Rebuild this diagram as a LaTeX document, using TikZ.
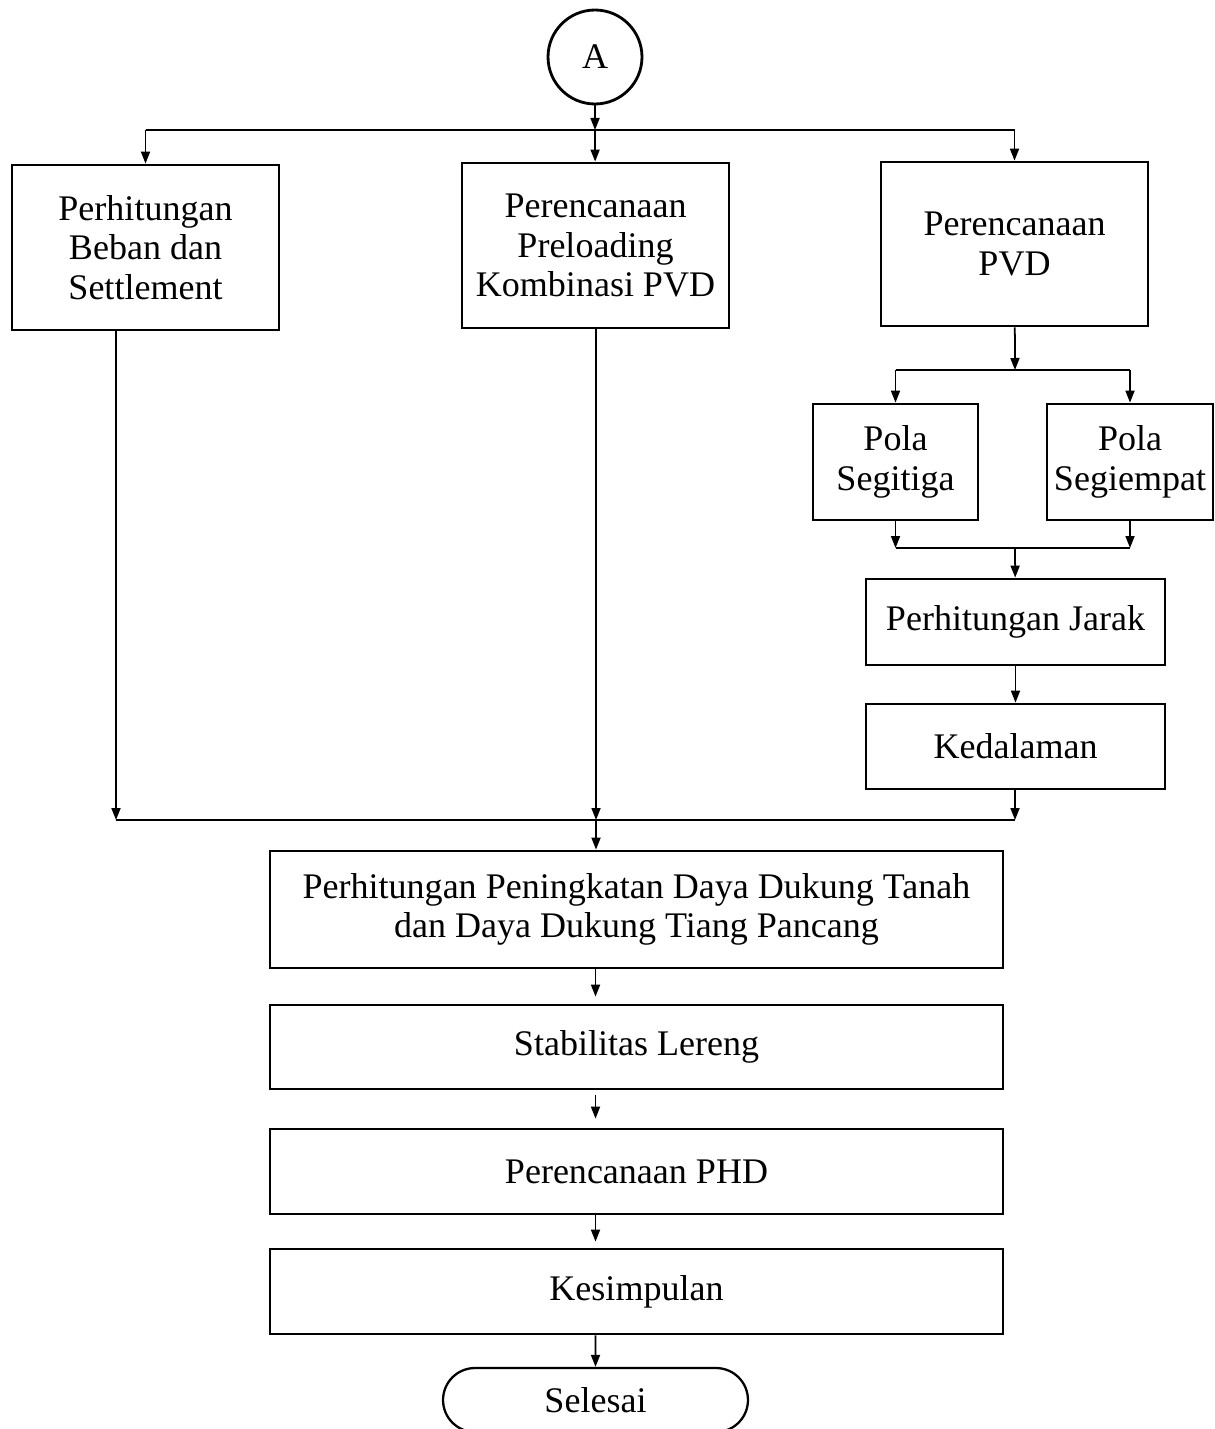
\documentclass[tikz,border=0pt]{standalone}
\usepackage{fontspec}
\setmainfont{Liberation Serif}
\usetikzlibrary{arrows.meta,shapes.misc,positioning,calc}

\begin{document}
\begin{tikzpicture}[x=0.02cm, y=-0.02cm,
    box/.style={draw, line width=1.6pt, align=center, inner sep=0pt, font=\fontsize{20.5}{22.6}\selectfont},
    arr/.style={-{Triangle[length=2.4mm,width=1.8mm]}, line width=1pt},
    ln/.style={line width=1pt}
]
\useasboundingbox (0,0) rectangle (1214,1429);

% start connector
\node[draw, circle, line width=1.6pt, minimum size=1.88cm, inner sep=0pt, font=\fontsize{20.5}{22.6}\selectfont] (A) at (595,57) {A};

% top row
\node[box, minimum width=5.34cm, minimum height=3.3cm] (beban) at (145.5,247.5) {Perhitungan\\Beban dan\\Settlement};
\node[box, minimum width=5.34cm, minimum height=3.3cm] (preload) at (595.5,245.5) {Perencanaan\\Preloading\\Kombinasi PVD};
\node[box, minimum width=5.34cm, minimum height=3.28cm] (pvd) at (1014.5,244) {Perencanaan\\PVD};

% PVD branch
\node[box, minimum width=3.3cm, minimum height=2.32cm] (segitiga) at (895.5,462) {Pola\\Segitiga};
\node[box, minimum width=3.32cm, minimum height=2.32cm] (segiempat) at (1130,462) {Pola\\Segiempat};
\node[box, minimum width=5.98cm, minimum height=1.72cm] (jarak) at (1015.5,622) {Perhitungan Jarak};
\node[box, minimum width=5.98cm, minimum height=1.7cm] (dalam) at (1015.5,746.5) {Kedalaman};

% main column
\node[box, minimum width=14.66cm, minimum height=2.34cm] (dukung) at (636.5,909.5) {Perhitungan Peningkatan Daya Dukung Tanah\\dan Daya Dukung Tiang Pancang};
\node[box, minimum width=14.66cm, minimum height=1.68cm] (lereng) at (636.5,1047) {Stabilitas Lereng};
\node[box, minimum width=14.66cm, minimum height=1.7cm] (phd) at (636.5,1171.5) {Perencanaan PHD};
\node[box, minimum width=14.66cm, minimum height=1.7cm] (simpul) at (636.5,1291.5) {Kesimpulan};
\node[box, rounded rectangle, line width=1.3pt, minimum width=6.1cm, minimum height=1.28cm] (selesai) at (595.5,1400) {Selesai};

% junctions
\coordinate (top) at (595,130);
\coordinate (pv1) at (1015,370);
\coordinate (pv2) at (1015,548);
\coordinate (m1) at (116,820);
\coordinate (m2) at (596,820);
\coordinate (m3) at (1015,820);

\draw[arr] (A) -- (top);
\draw[ln] (beban |- top) -- (pvd |- top);
\draw[arr] (beban |- top) -- (beban);
\draw[arr] (top) -- (preload);
\draw[arr] (pvd |- top) -- (pvd);

\draw[arr] (pvd) -- (pv1);
\draw[ln] (segitiga |- pv1) -- (segiempat |- pv1);
\draw[arr] (segitiga |- pv1) -- (segitiga);
\draw[arr] (segiempat |- pv1) -- (segiempat);
\draw[arr] (segitiga) -- (segitiga |- pv2);
\draw[arr] (segiempat) -- (segiempat |- pv2);
\draw[ln] (segitiga |- pv2) -- (segiempat |- pv2);
\draw[arr] (pv2) -- (jarak);
\draw[arr] (jarak) -- (dalam);

\draw[arr] (beban.south -| m1) -- (m1);
\draw[arr] (preload.south -| m2) -- (m2);
\draw[arr] (dalam.south -| m3) -- (m3);
\draw[ln] (m1) -- (m3);
\draw[arr] (m2) -- (m2 |- dukung.north);

\draw[arr] (dukung.south -| selesai) -- ([yshift=0.14cm]lereng.north -| selesai);
\draw[arr] ([yshift=-0.1cm]lereng.south -| selesai) -- ([yshift=0.18cm]phd.north -| selesai);
\draw[arr] (phd.south -| selesai) -- ([yshift=0.12cm]simpul.north -| selesai);
\draw[arr] (simpul.south -| selesai) -- (selesai);
\end{tikzpicture}
\end{document}
